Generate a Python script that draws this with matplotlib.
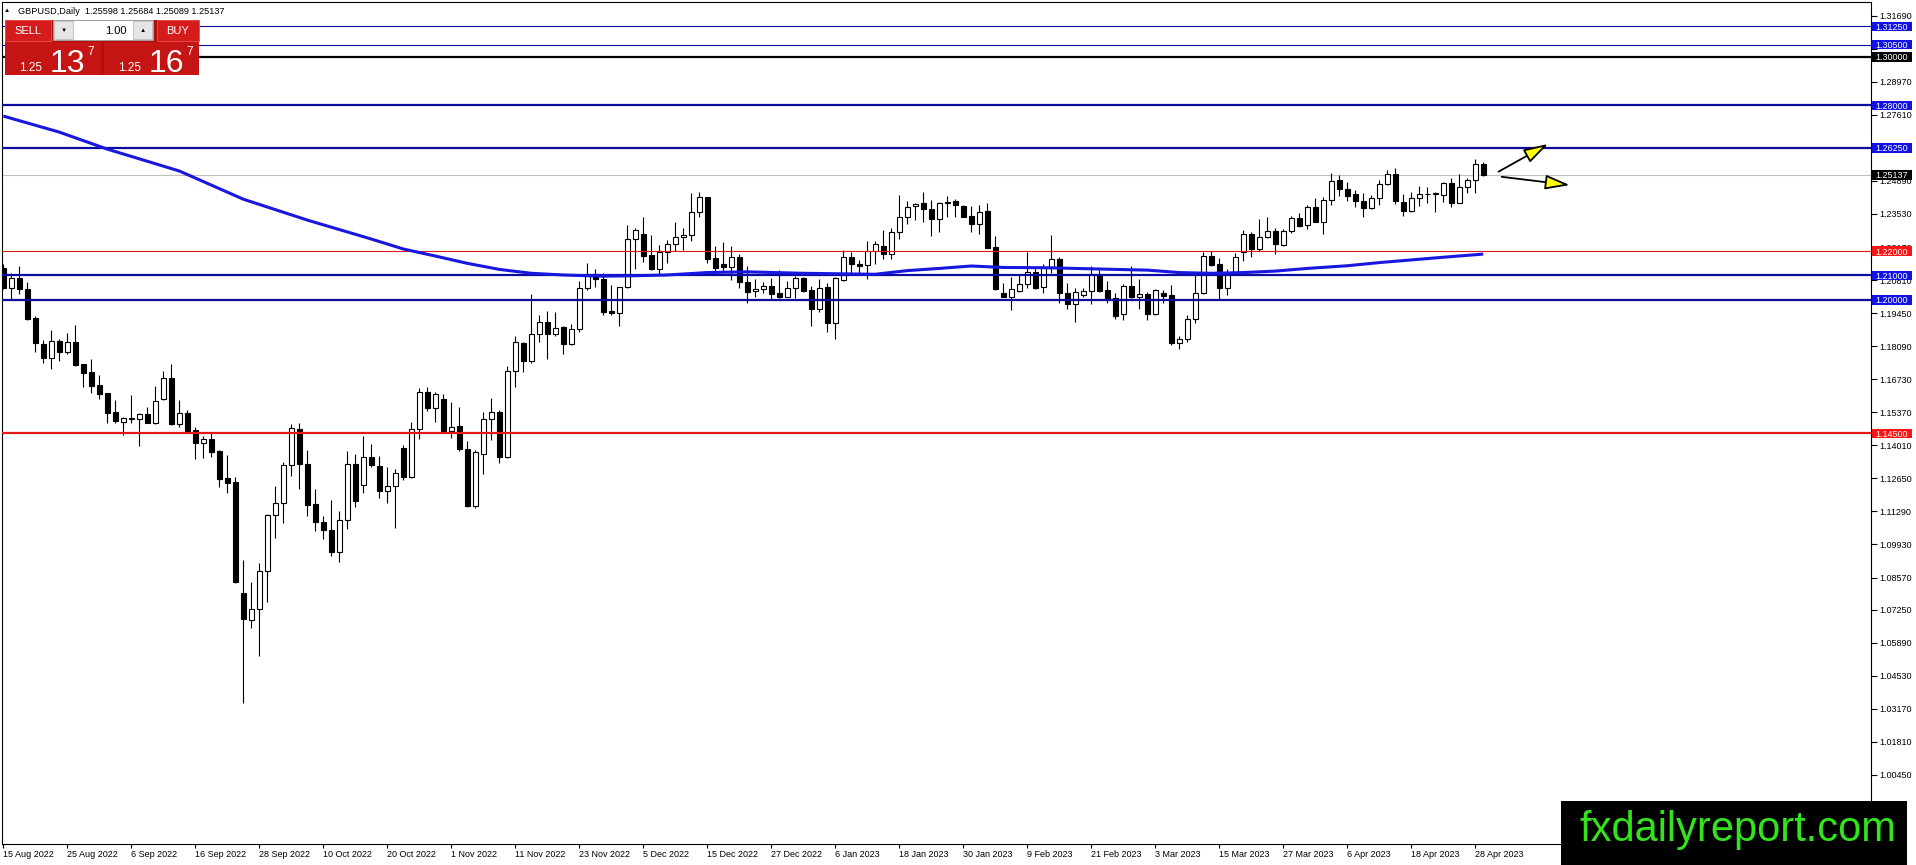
import matplotlib
matplotlib.use("Agg")
import matplotlib.pyplot as plt
import matplotlib.transforms as mtransforms
from matplotlib.patches import Rectangle
import numpy as np
import pandas as pd

plt.rcParams['font.family'] = ['Liberation Sans', 'DejaVu Sans']

# GBPUSD daily candles, 15 Aug 2022 .. 1 May 2023
dates = pd.bdate_range('2022-08-15', periods=186)

opens = [
    1.2129, 1.2047, 1.2088, 1.2043, 1.1924, 1.1817, 1.1759, 1.1830, 1.1786, 1.1825,
    1.1734, 1.1701, 1.1648, 1.1615, 1.1537, 1.1498, 1.1509, 1.1509, 1.1530, 1.1494,
    1.1590, 1.1677, 1.1487, 1.1533, 1.1464, 1.1409, 1.1427, 1.1378, 1.1265, 1.1249,
    1.0792, 1.0681, 1.0726, 1.0882, 1.1113, 1.1162, 1.1319, 1.1468, 1.1324, 1.1158,
    1.1085, 1.1053, 1.0963, 1.1094, 1.1324, 1.1236, 1.1354, 1.1316, 1.1213, 1.1234,
    1.1389, 1.1272, 1.1467, 1.1622, 1.1556, 1.1590, 1.1461, 1.1481, 1.1385, 1.1153,
    1.1364, 1.1508, 1.1537, 1.1352, 1.1708, 1.1821, 1.1749, 1.1858, 1.1910, 1.1858,
    1.1889, 1.1817, 1.1878, 1.2047, 1.2105, 1.2084, 1.1954, 1.1944, 1.2051, 1.2249,
    1.2271, 1.2184, 1.2125, 1.2198, 1.2228, 1.2257, 1.2267, 1.2360, 1.2422, 1.2170,
    1.2146, 1.2136, 1.2177, 1.2075, 1.2036, 1.2043, 1.2057, 1.2027, 1.2013, 1.2047,
    1.2088, 1.2040, 1.1961, 1.2051, 1.1903, 1.2081, 1.2177, 1.2146, 1.2143, 1.2202,
    1.2223, 1.2188, 1.2280, 1.2339, 1.2386, 1.2397, 1.2372, 1.2331, 1.2397, 1.2406,
    1.2386, 1.2345, 1.2310, 1.2365, 1.2216, 1.2027, 1.2013, 1.2038, 1.2064, 1.2113,
    1.2051, 1.2133, 1.2166, 1.2027, 1.1983, 1.2020, 1.2036, 1.2105, 1.2040, 1.2006,
    1.1940, 1.2057, 1.2013, 1.2024, 1.1940, 1.2027, 1.2020, 1.1821, 1.1837, 1.1920,
    1.2027, 1.2180, 1.2146, 1.2047, 1.2109, 1.2198, 1.2269, 1.2211, 1.2260, 1.2283,
    1.2225, 1.2284, 1.2335, 1.2308, 1.2380, 1.2321, 1.2411, 1.2493, 1.2455, 1.2434,
    1.2408, 1.2376, 1.2417, 1.2475, 1.2516, 1.2401, 1.2367, 1.2417, 1.2434, 1.2437,
    1.2431, 1.2479, 1.2400, 1.2463, 1.2493, 1.25598]
highs = [
    1.2147, 1.2112, 1.2139, 1.2075, 1.1933, 1.1834, 1.1876, 1.1837, 1.1862, 1.1896,
    1.1737, 1.1755, 1.1690, 1.1618, 1.1588, 1.1519, 1.1608, 1.1535, 1.1560, 1.1645,
    1.1708, 1.1736, 1.1588, 1.1546, 1.1478, 1.1439, 1.1457, 1.1382, 1.1361, 1.1269,
    1.0929, 1.0840, 1.0915, 1.1117, 1.1234, 1.1332, 1.1489, 1.1494, 1.1382, 1.1221,
    1.1110, 1.1176, 1.1131, 1.1378, 1.1365, 1.1439, 1.1405, 1.1357, 1.1313, 1.1302,
    1.1402, 1.1496, 1.1638, 1.1640, 1.1620, 1.1611, 1.1581, 1.1560, 1.1419, 1.1382,
    1.1537, 1.1594, 1.1546, 1.1728, 1.1851, 1.1828, 1.2024, 1.1937, 1.1954, 1.1950,
    1.1893, 1.1899, 1.2077, 1.2150, 1.2125, 1.2112, 1.2061, 1.2054, 1.2308, 1.2297,
    1.2339, 1.2267, 1.2225, 1.2246, 1.2319, 1.2297, 1.2438, 1.2442, 1.2424, 1.2221,
    1.2236, 1.2221, 1.2188, 1.2139, 1.2084, 1.2075, 1.2088, 1.2123, 1.2077, 1.2099,
    1.2095, 1.2057, 1.2084, 1.2068, 1.2095, 1.2205, 1.2198, 1.2164, 1.2242, 1.2243,
    1.2287, 1.2294, 1.2431, 1.2408, 1.2400, 1.2442, 1.2411, 1.2404, 1.2427, 1.2413,
    1.2388, 1.2387, 1.2390, 1.2397, 1.2262, 1.2068, 1.2095, 1.2105, 1.2198, 1.2129,
    1.2146, 1.2267, 1.2177, 1.2070, 1.2047, 1.2050, 1.2139, 1.2123, 1.2079, 1.2029,
    1.2065, 1.2139, 1.2084, 1.2033, 1.2044, 1.2040, 1.2061, 1.1852, 1.1937, 1.2102,
    1.2195, 1.2201, 1.2170, 1.2127, 1.2191, 1.2287, 1.2280, 1.2331, 1.2339, 1.2294,
    1.2290, 1.2345, 1.2356, 1.2390, 1.2417, 1.2424, 1.2520, 1.2514, 1.2483, 1.2452,
    1.2438, 1.2431, 1.2493, 1.2534, 1.2541, 1.2435, 1.2445, 1.2470, 1.2465, 1.2445,
    1.2483, 1.2503, 1.2516, 1.2503, 1.2578, 1.25684]
lows = [
    1.2043, 1.2002, 1.2022, 1.1917, 1.1786, 1.1738, 1.1714, 1.1749, 1.1777, 1.1729,
    1.1642, 1.1618, 1.1593, 1.1494, 1.1492, 1.1442, 1.1492, 1.1400, 1.1492, 1.1489,
    1.1588, 1.1485, 1.1475, 1.1457, 1.1345, 1.1350, 1.1354, 1.1231, 1.1206, 1.0836,
    1.0342, 1.0651, 1.0534, 1.0758, 1.1021, 1.1083, 1.1276, 1.1221, 1.1112, 1.1050,
    1.1017, 1.0947, 1.0922, 1.1055, 1.1149, 1.1206, 1.1313, 1.1183, 1.1165, 1.1059,
    1.1258, 1.1268, 1.1426, 1.1542, 1.1496, 1.1457, 1.1433, 1.1379, 1.1149, 1.1145,
    1.1283, 1.1423, 1.1330, 1.1350, 1.1643, 1.1704, 1.1738, 1.1828, 1.1758, 1.1852,
    1.1776, 1.1814, 1.1869, 1.2040, 1.2054, 1.1937, 1.1937, 1.1893, 1.2047, 1.2125,
    1.2157, 1.2123, 1.2106, 1.2153, 1.2201, 1.2205, 1.2243, 1.2339, 1.2153, 1.2118,
    1.2118, 1.2081, 1.2050, 1.1988, 1.2013, 1.2027, 1.2002, 1.2006, 1.2010, 1.2006,
    1.2032, 1.1893, 1.1951, 1.1869, 1.1837, 1.2078, 1.2106, 1.2112, 1.2084, 1.2146,
    1.2166, 1.2166, 1.2249, 1.2312, 1.2328, 1.2319, 1.2262, 1.2278, 1.2339, 1.2342,
    1.2339, 1.2280, 1.2269, 1.2212, 1.2040, 1.2010, 1.1958, 1.2033, 1.2047, 1.2043,
    1.2027, 1.2112, 1.1985, 1.1961, 1.1910, 1.2010, 1.1981, 1.2031, 1.1985, 1.1921,
    1.1917, 1.2008, 1.1961, 1.1917, 1.1937, 1.1988, 1.1814, 1.1797, 1.1828, 1.1903,
    1.2024, 1.2139, 1.2002, 1.2020, 1.2102, 1.2161, 1.2175, 1.2201, 1.2256, 1.2187,
    1.2221, 1.2273, 1.2298, 1.2290, 1.2320, 1.2269, 1.2390, 1.2427, 1.2408, 1.2383,
    1.2339, 1.2374, 1.2390, 1.2472, 1.2393, 1.2345, 1.2363, 1.2387, 1.2400, 1.2363,
    1.2404, 1.2383, 1.2397, 1.2438, 1.2441, 1.25089]
closes = [
    1.2047, 1.2088, 1.2043, 1.1921, 1.1823, 1.1759, 1.1830, 1.1786, 1.1825, 1.1732,
    1.1700, 1.1647, 1.1612, 1.1535, 1.1503, 1.1512, 1.1512, 1.1529, 1.1494, 1.1583,
    1.1677, 1.1487, 1.1533, 1.1461, 1.1412, 1.1427, 1.1375, 1.1264, 1.1247, 1.0839,
    1.0685, 1.0726, 1.0882, 1.1114, 1.1162, 1.1319, 1.1471, 1.1323, 1.1157, 1.1084,
    1.1053, 1.0963, 1.1094, 1.1323, 1.1173, 1.1354, 1.1319, 1.1212, 1.1234, 1.1289,
    1.1272, 1.1467, 1.1622, 1.1556, 1.1611, 1.1461, 1.1478, 1.1385, 1.1153, 1.1375,
    1.1508, 1.1537, 1.1352, 1.1708, 1.1828, 1.1749, 1.1858, 1.1910, 1.1858, 1.1883,
    1.1817, 1.1878, 1.2047, 1.2106, 1.2084, 1.1951, 1.1944, 1.2051, 1.2249, 1.2287,
    1.2182, 1.2125, 1.2198, 1.2228, 1.2260, 1.2267, 1.2360, 1.2422, 1.2168, 1.2129,
    1.2136, 1.2177, 1.2075, 1.2033, 1.2043, 1.2057, 1.2024, 1.2013, 1.2047, 1.2088,
    1.2038, 1.1961, 1.2047, 1.1903, 1.2088, 1.2177, 1.2146, 1.2140, 1.2202, 1.2228,
    1.2188, 1.2280, 1.2339, 1.2383, 1.2393, 1.2372, 1.2331, 1.2397, 1.2404, 1.2389,
    1.2342, 1.2310, 1.2363, 1.2214, 1.2044, 1.2013, 1.2043, 1.2064, 1.2114, 1.2050,
    1.2136, 1.2166, 1.2027, 1.1983, 1.2033, 1.2036, 1.2105, 1.2038, 1.2003, 1.1935,
    1.2057, 1.2013, 1.2024, 1.1940, 1.2040, 1.2017, 1.1821, 1.1837, 1.1920, 1.2027,
    1.2180, 1.2143, 1.2047, 1.2109, 1.2175, 1.2269, 1.2211, 1.2260, 1.2283, 1.2228,
    1.2284, 1.2335, 1.2304, 1.2380, 1.2321, 1.2411, 1.2490, 1.2455, 1.2428, 1.2408,
    1.2376, 1.2417, 1.2475, 1.2516, 1.2408, 1.2367, 1.2417, 1.2434, 1.2435, 1.2438,
    1.2479, 1.2400, 1.2463, 1.2493, 1.2557, 1.25137]

# moving average, read at a few bars
ma_bars = [0, 7, 13, 22, 30, 38, 46, 50, 54, 58, 62, 66, 70, 75, 79, 83, 88, 93,
           100, 109, 113, 117, 121, 125, 130, 134, 139, 143, 147, 151, 155, 159,
           163, 168, 172, 176, 180, 185]
ma_vals = [1.2756, 1.2690, 1.2620, 1.2530, 1.2414, 1.2328, 1.2250, 1.2209, 1.2180,
           1.2150, 1.2125, 1.2109, 1.2102, 1.2097, 1.2099, 1.2102, 1.2112, 1.2115,
           1.2109, 1.2105, 1.2120, 1.2129, 1.2139, 1.2133, 1.2132, 1.2129, 1.2125,
           1.2122, 1.2112, 1.2109, 1.2112, 1.2118, 1.2129, 1.2140, 1.2153, 1.2164,
           1.2175, 1.2188]

# horizontal levels
levels = [1.3125, 1.3050, 1.3000, 1.2800, 1.2625, 1.2200, 1.2100, 1.2000, 1.1450]
level_kind = ['blue', 'blue', 'black', 'blue', 'blue', 'red', 'blue', 'blue', 'red']
level_lw = [0.8, 0.8, 1.6, 1.6, 1.6, 0.8, 1.6, 1.6, 1.6]
bid = 1.25137

# price scale; 1.30330 and 1.26250 sit under the level labels and are not shown
ytick_vals = [1.31690, 1.30330, 1.28970, 1.27610, 1.26250, 1.24890, 1.23530,
              1.22170, 1.20810, 1.19450, 1.18090, 1.16730, 1.15370, 1.14010,
              1.12650, 1.11290, 1.09930, 1.08570, 1.07250, 1.05890, 1.04530,
              1.03170, 1.01810, 1.00450]
ytick_hidden = [1.30330, 1.26250]

line_col = {'blue': '#0C0CA0', 'black': 'black', 'red': '#E01818'}
box_col = {'blue': '#1212E8', 'black': 'black', 'red': '#FF1414'}

W, H = 1916, 865
fig = plt.figure(figsize=(W / 100, H / 100), dpi=100)
ax = fig.add_axes([2 / W, 21 / H, 1868.7 / W, 842 / H])
ax.set_xlim(-0.16, 233.43)
ax.set_ylim(0.97604, 1.32254)

x = np.arange(len(opens))
o = np.array(opens)
hi = np.array(highs)
lo = np.array(lows)
c = np.array(closes)
up = c >= o
body_lo = np.minimum(o, c)
body_h = np.maximum(np.abs(c - o), 0.00006)

ax.vlines(x, lo, hi, color='black', lw=0.8, zorder=2)
ax.bar(x[up], body_h[up], bottom=body_lo[up], width=0.6, color='white',
       edgecolor='black', linewidth=0.8, zorder=3)
ax.bar(x[~up], body_h[~up], bottom=body_lo[~up], width=0.6, color='black',
       edgecolor='black', linewidth=0.8, zorder=3)

# levels and bid line
for lv, kind, lw in zip(levels, level_kind, level_lw):
    ax.axhline(lv, color=line_col[kind], lw=lw, zorder=4)
ax.axhline(bid, color='#C0C0C0', lw=0.8, zorder=1)

ax.plot(ma_bars, ma_vals, color='#1717E0', lw=2.2, zorder=5, solid_capstyle='butt')

# arrows
for start, tip in [((186.9, 1.2527), (193.1, 1.2641)), ((187.3, 1.2506), (195.8, 1.2472))]:
    ax.annotate('', xy=tip, xytext=start,
                arrowprops=dict(arrowstyle='-|>,head_length=1.5,head_width=0.45',
                                fc='#FFFF00', ec='black', lw=1.3,
                                shrinkA=0, shrinkB=0), zorder=6)

# axes styling
for s in ax.spines.values():
    s.set_color('black')
    s.set_linewidth(0.8)
ax.yaxis.tick_right()
ax.set_yticks(ytick_vals)
ax.set_yticklabels(['' if v in ytick_hidden else f'{v:.5f}' for v in ytick_vals])
ax.tick_params(axis='y', direction='out', length=4, width=0.8, labelsize=6.5, pad=2)
ax.set_xticks(x[::8])
ax.set_xticklabels([f'{d.day} {d.strftime("%b %Y")}' for d in dates[::8]])
ax.tick_params(axis='x', direction='out', length=3, width=0.8, labelsize=6.5, pad=1)
for lbl in ax.get_xticklabels():
    lbl.set_ha('left')

# price labels on the right axis
trans = mtransforms.blended_transform_factory(ax.transAxes, ax.transData)
bx_w = 40 / 1868.7
bx_h = 9.6 / 2430
for lv, kind in list(zip(levels, level_kind)) + [(bid, 'black')]:
    ax.add_patch(Rectangle((1.0008, lv - bx_h / 2), bx_w, bx_h, transform=trans,
                           fc=box_col[kind], ec='none', clip_on=False, zorder=8))
    ax.text(1.0025, lv, f'{lv:.5f}', transform=trans, color='white', fontsize=6.5,
            va='center_baseline', ha='left', clip_on=False, zorder=9)

# overlay in pixel coordinates: header, trade panel, watermark
ov = fig.add_axes([0, 0, 1, 1], zorder=10)
ov.set_xlim(0, W)
ov.set_ylim(H, 0)
ov.axis('off')

ov.text(7, 11, '▲', fontsize=4.5, va='center', ha='center')
ov.text(18, 11, 'GBPUSD,Daily  1.25598 1.25684 1.25089 1.25137', fontsize=6.6,
        va='center', ha='left')

ov.add_patch(Rectangle((5, 20), 194, 55, fc='#B30E0E', ec='none'))
ov.add_patch(Rectangle((5, 20), 46, 21, fc='#D41C1C', ec='#E85050', lw=0.6))
ov.add_patch(Rectangle((157, 20), 42, 21, fc='#D41C1C', ec='#E85050', lw=0.6))
ov.add_patch(Rectangle((53, 20), 100, 20, fc='white', ec='#A0A0A0', lw=0.6))
ov.add_patch(Rectangle((54, 21), 19, 18, fc='#E6E6E6', ec='#B0B0B0', lw=0.5))
ov.add_patch(Rectangle((133, 21), 19, 18, fc='#E6E6E6', ec='#B0B0B0', lw=0.5))
ov.text(63.5, 30.5, '▼', fontsize=4.5, va='center', ha='center')
ov.text(142.5, 30, '▲', fontsize=4.5, va='center', ha='center')
ov.text(127, 30.5, '1.00', fontsize=8, va='center', ha='right')
ov.text(28, 31, 'SELL', fontsize=8, color='white', va='center', ha='center')
ov.text(178, 31, 'BUY', fontsize=8, color='white', va='center', ha='center')
ov.add_patch(Rectangle((5, 42), 96, 33, fc='#C41414', ec='none'))
ov.add_patch(Rectangle((104, 42), 95, 33, fc='#C41414', ec='none'))
for x0, big in [(0, '13'), (99, '16')]:
    ov.text(19 + x0, 71, '1.25', fontsize=8.5, color='white', va='baseline', ha='left')
    ov.text(50 + x0, 72, big, fontsize=23, color='white', va='baseline', ha='left')
    ov.text(87 + x0, 55, '7', fontsize=8.5, color='white', va='baseline', ha='left')

ov.add_patch(Rectangle((1561, 801), 346, 64, fc='black', ec='none'))
ov.text(1738, 830, 'fxdailyreport.com', fontsize=30, color='#33E41C',
        va='center', ha='center')

fig.savefig('out.png', dpi=100)
